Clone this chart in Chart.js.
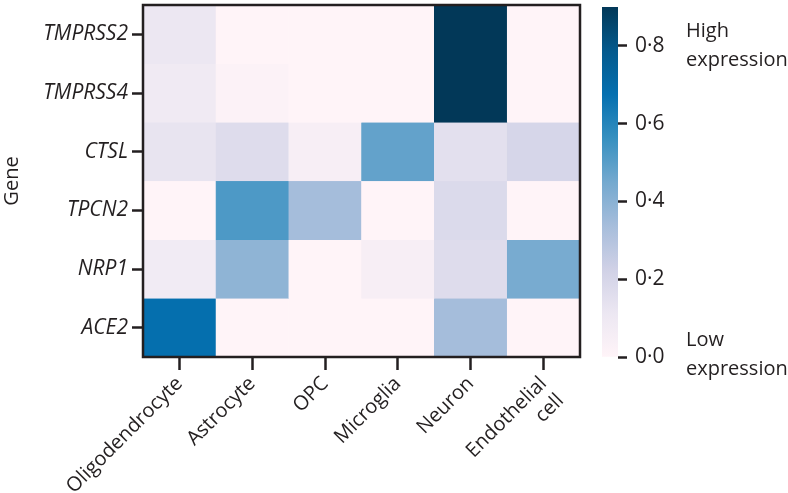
<!DOCTYPE html>
<html>
<head>
<meta charset="utf-8">
<script src="https://cdn.jsdelivr.net/npm/chart.js@4/dist/chart.umd.min.js"></script>
<style>
  body { margin: 0; background: #fff; }
  #wrap { position: relative; width: 788px; height: 493px; }
  #heat { position: absolute; left: 0; top: 0; }
  #bar { position: absolute; left: 590px; top: 0; }
</style>
</head>
<body>
<div id="wrap">
  <canvas id="heat" width="600" height="493"></canvas>
  <canvas id="bar" width="198" height="493"></canvas>
</div>
<script>
var cellTypes = ['Oligodendrocyte', 'Astrocyte', 'OPC', 'Microglia', 'Neuron', ['Endothelial', 'cell']];
var genes = ['TMPRSS2', 'TMPRSS4', 'CTSL', 'TPCN2', 'NRP1', 'ACE2'];

// expression per gene, in cell type order
var tmprss2 = [0.11, 0.0, 0.0, 0.0, 0.9, 0.0];
var tmprss4 = [0.09, 0.02, 0.0, 0.0, 0.9, 0.0];
var ctsl = [0.13, 0.17, 0.05, 0.48, 0.15, 0.2];
var tpcn2 = [0.0, 0.52, 0.34, 0.0, 0.18, 0.0];
var nrp1 = [0.08, 0.39, 0.0, 0.05, 0.17, 0.44];
var ace2 = [0.68, 0.0, 0.0, 0.0, 0.34, 0.0];
var values = [tmprss2, tmprss4, ctsl, tpcn2, nrp1, ace2];

var vmin = 0, vmax = 0.9;
var barTicks = [0, 0.2, 0.4, 0.6, 0.8];

var puBu = ['#fff4f8', '#ece7f2', '#d0d1e6', '#a6bddb', '#74a9cf', '#3690c0', '#0570b0', '#045a8d', '#023858'];
var ink = '#231f20';
var fontFam = "'Open Sans', sans-serif";

function hexToRgb(h) {
    return [parseInt(h.substr(1, 2), 16), parseInt(h.substr(3, 2), 16), parseInt(h.substr(5, 2), 16)];
}

function colorFor(v) {
    var t = (v - vmin) / (vmax - vmin);
    t = Math.max(0, Math.min(1, t)) * (puBu.length - 1);
    var i = Math.min(Math.floor(t), puBu.length - 2);
    var f = t - i;
    var a = hexToRgb(puBu[i]), b = hexToRgb(puBu[i + 1]);
    var c = a.map(function(x, k) { return Math.round(x + (b[k] - x) * f); });
    return 'rgb(' + c.join(',') + ')';
}

var frame = {
    id: 'frame',
    afterDatasetsDraw: function(chart) {
        var a = chart.chartArea, ctx = chart.ctx;
        ctx.save();
        ctx.strokeStyle = ink;
        ctx.lineWidth = 2.5;
        ctx.strokeRect(a.left, a.top, a.right - a.left, a.bottom - a.top);
        ctx.restore();
    }
};

var datasets = genes.map(function(g, r) {
    var cols = values[r].map(colorFor);
    return {
        label: g,
        data: cellTypes.map(function() { return [r, r + 1]; }),
        backgroundColor: cols,
        borderColor: cols,
        borderWidth: 0.6,
        borderSkipped: false,
        barPercentage: 1,
        categoryPercentage: 1,
        grouped: false
    };
});

new Chart('heat', {
    type: 'bar',
    data: { labels: cellTypes, datasets: datasets },
    options: {
        responsive: false,
        animation: false,
        layout: { padding: { top: 5, right: 20, left: 0, bottom: 0 } },
        plugins: { legend: { display: false }, tooltip: { enabled: false } },
        scales: {
            x: {
                grid: { display: true, drawOnChartArea: false, offset: false, tickLength: 13, tickWidth: 2.5, tickColor: ink },
                border: { display: false },
                ticks: {
                    color: ink, maxRotation: 45, minRotation: 45, padding: 2, autoSkip: false,
                    font: { family: fontFam, size: 20 }
                },
                afterFit: function(s) { s.height = 136; s.paddingLeft = 0; s.paddingRight = 0; }
            },
            y: {
                type: 'linear', min: 0, max: 6, reverse: true,
                afterBuildTicks: function(s) {
                    s.ticks = genes.map(function(g, i) { return { value: i + 0.5 }; });
                },
                grid: { display: true, drawOnChartArea: false, tickLength: 11, tickWidth: 2.5, tickColor: ink },
                border: { display: false },
                ticks: {
                    color: ink, padding: 4,
                    font: { family: fontFam, size: 21, style: 'italic' },
                    callback: function(v) { return genes[Math.floor(v)]; }
                },
                title: { display: true, text: 'Gene', color: ink, font: { family: fontFam, size: 20 }, padding: 0 },
                afterFit: function(s) { s.width = 143; s.paddingTop = 0; s.paddingBottom = 0; }
            }
        }
    },
    plugins: [frame]
});

var legendText = {
    id: 'legendText',
    afterDraw: function(chart) {
        var ctx = chart.ctx;
        ctx.save();
        ctx.fillStyle = ink;
        ctx.font = '20px ' + fontFam;
        ctx.textBaseline = 'middle';
        ctx.textAlign = 'left';
        ctx.fillText('High', 96, 31);
        ctx.fillText('expression', 96, 60);
        ctx.fillText('Low', 96, 340);
        ctx.fillText('expression', 96, 369);
        ctx.restore();
    }
};

new Chart('bar', {
    type: 'bar',
    data: {
        labels: ['scale'],
        datasets: [{
            data: [[vmin, vmax]],
            barPercentage: 1,
            categoryPercentage: 1,
            borderWidth: 0,
            backgroundColor: function(c) {
                var a = c.chart.chartArea;
                if (!a) return puBu[4];
                var g = c.chart.ctx.createLinearGradient(0, a.bottom, 0, a.top);
                puBu.forEach(function(col, i) { g.addColorStop(i / (puBu.length - 1), col); });
                return g;
            }
        }]
    },
    options: {
        responsive: false,
        animation: false,
        layout: { padding: { top: 7, left: 12, right: 0, bottom: 136 } },
        plugins: { legend: { display: false }, tooltip: { enabled: false } },
        scales: {
            x: { display: false },
            y: {
                position: 'right', min: vmin, max: vmax,
                afterBuildTicks: function(s) {
                    s.ticks = barTicks.map(function(v) { return { value: v }; });
                },
                grid: { display: true, drawOnChartArea: false, tickLength: 9, tickWidth: 2.5, tickColor: ink },
                border: { display: false },
                ticks: {
                    color: ink, padding: 8,
                    font: { family: fontFam, size: 21 },
                    callback: function(v) { return v.toFixed(1).replace('.', '\u00b7'); }
                },
                afterFit: function(s) { s.width = 170; s.paddingTop = 0; s.paddingBottom = 0; }
            }
        }
    },
    plugins: [legendText]
});
</script>
</body>
</html>
